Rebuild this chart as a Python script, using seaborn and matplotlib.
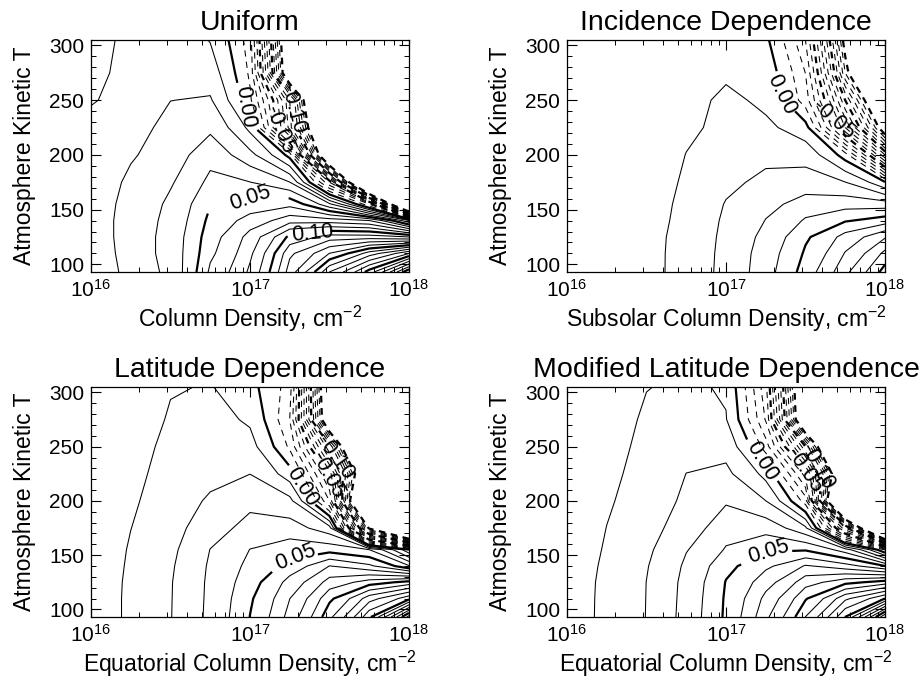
import numpy as np
import matplotlib
matplotlib.use("Agg")
import matplotlib.pyplot as plt
from matplotlib.ticker import LogLocator, NullFormatter, MultipleLocator
import seaborn as sns

sns.set_style("ticks")
plt.rcParams["font.family"] = ["Liberation Sans", "DejaVu Sans"]
plt.rcParams["mathtext.fontset"] = "custom"
plt.rcParams["mathtext.rm"] = "Liberation Sans"
plt.rcParams["mathtext.it"] = "Liberation Sans:italic"
plt.rcParams["mathtext.bf"] = "Liberation Sans:bold"
for key in ["text.color", "axes.labelcolor", "xtick.color", "ytick.color", "axes.edgecolor"]:
    plt.rcParams[key] = "black"

# ---------------- data ----------------
log_column_density = [16.0, 16.25, 16.5, 16.75, 17.0, 17.25, 17.5, 17.75, 18.0]
temperature = [93, 110, 125, 140, 155, 175, 200, 225, 250, 275, 305]

# one list per column density, values at the temperatures above (low T -> high T)
uniform = [
    [0.013, 0.014, 0.015, 0.015, 0.015, 0.015, 0.015, 0.014, 0.009, 0.006, 0.003],
    [0.024, 0.025, 0.025, 0.025, 0.024, 0.022, 0.019, 0.017, 0.016, 0.016, 0.016],
    [0.033, 0.034, 0.034, 0.033, 0.032, 0.029, 0.026, 0.023, 0.0199, 0.018, 0.016],
    [0.062, 0.058, 0.056, 0.053, 0.0497, 0.043, 0.036, 0.028, 0.021, 0.015, 0.0095],
    [0.082, 0.078, 0.074, 0.0645, 0.0537, 0.0402, 0.023, 0.007, -0.008, -0.012, -0.015],
    [0.125, 0.118, 0.103, 0.076, 0.057, 0.0302, -0.004, -0.085, -0.0902, -0.19, -0.20],
    [0.1702, 0.1402, 0.115, 0.075, 0.032, -0.0402, -0.22, -0.25, -0.3, -0.3, -0.3],
    [0.205, 0.165, 0.115, 0.0702, -0.0202, -0.3, -0.3, -0.3, -0.3, -0.3, -0.3],
    [0.2602, 0.19, 0.1102, 0.031, -0.3, -0.3, -0.3, -0.3, -0.3, -0.3, -0.3],
]

incidence = [
    [0.004, 0.004, 0.004, 0.004, 0.004, 0.004, 0.004, 0.004, 0.004, 0.004, 0.004],
    [0.006, 0.006, 0.006, 0.005, 0.005, 0.005, 0.0045, 0.0042, 0.004, 0.004, 0.004],
    [0.007, 0.007, 0.0068, 0.006, 0.0056, 0.0054, 0.0048, 0.0045, 0.0043, 0.0042, 0.004],
    [0.0146, 0.0145, 0.0143, 0.0138, 0.0131, 0.0116, 0.0102, 0.0083, 0.0075, 0.007, 0.0065],
    [0.0232, 0.0229, 0.0224, 0.0217, 0.0206, 0.0178, 0.015, 0.013, 0.012, 0.0085, 0.006],
    [0.0364, 0.0355, 0.0335, 0.0303, 0.0276, 0.023, 0.017, 0.012, 0.0077, 0.006, 0.002],
    [0.0551, 0.0515, 0.0485, 0.0413, 0.034, 0.025, 0.016, 0.004, -0.015, -0.0202, -0.0302],
    [0.0779, 0.0707, 0.064, 0.0491, 0.036, 0.0202, -0.005, -0.0702, -0.1002, -0.1402, -0.16],
    [0.1047, 0.0928, 0.079, 0.055, 0.035, 0.001, -0.0902, -0.17, -0.22, -0.3, -0.3],
]

latitude = [
    [0.005, 0.005, 0.005, 0.005, 0.005, 0.005, 0.0048, 0.0046, 0.0044, 0.0042, 0.004],
    [0.012, 0.012, 0.0118, 0.0113, 0.0108, 0.0099, 0.0088, 0.0078, 0.007, 0.0065, 0.006],
    [0.0197, 0.0196, 0.0195, 0.019, 0.0182, 0.017, 0.0155, 0.014, 0.0125, 0.0108, 0.0095],
    [0.033, 0.0326, 0.0323, 0.0316, 0.0302, 0.026, 0.0215, 0.017, 0.014, 0.013, 0.0105],
    [0.0502, 0.0487, 0.0461, 0.0431, 0.0402, 0.034, 0.027, 0.0199, 0.0135, 0.0085, 0.003],
    [0.0741, 0.0699, 0.064, 0.054, 0.046, 0.034, 0.023, 0.0045, -0.012, -0.0202, -0.015],
    [0.1078, 0.0977, 0.0843, 0.0702, 0.046, 0.024, -0.0302, -0.055, -0.1002, -0.19, -0.20],
    [0.148, 0.126, 0.095, 0.062, 0.0402, -0.155, -0.3, -0.22, -0.3, -0.3, -0.3],
    [0.215, 0.147, 0.104, 0.041, 0.002, -0.3, -0.3, -0.3, -0.3, -0.3, -0.3],
]

modified_latitude = [
    [0.006, 0.006, 0.006, 0.006, 0.006, 0.0058, 0.0056, 0.0054, 0.0052, 0.005, 0.0048],
    [0.0124, 0.0123, 0.0121, 0.0115, 0.0108, 0.0101, 0.0092, 0.0084, 0.0078, 0.0072, 0.0068],
    [0.0203, 0.0202, 0.0201, 0.0195, 0.0185, 0.0165, 0.0142, 0.0131, 0.012, 0.0111, 0.0098],
    [0.0345, 0.034, 0.0335, 0.032, 0.0295, 0.026, 0.0225, 0.0201, 0.0165, 0.014, 0.0115],
    [0.052, 0.0515, 0.0505, 0.0475, 0.041, 0.0355, 0.029, 0.022, 0.017, 0.0105, 0.0088],
    [0.078, 0.073, 0.066, 0.058, 0.049, 0.036, 0.0201, 0.0065, -0.015, -0.031, -0.037],
    [0.1102, 0.099, 0.086, 0.071, 0.049, 0.022, -0.015, -0.045, -0.1002, -0.201, -0.208],
    [0.1502, 0.128, 0.097, 0.064, 0.035, -0.08, -0.3, -0.22, -0.3, -0.3, -0.3],
    [0.2202, 0.1502, 0.105, 0.0502, -0.011, -0.3, -0.3, -0.3, -0.3, -0.3, -0.3],
]

titles = ["Uniform", "Incidence Dependence",
          "Latitude Dependence", "Modified Latitude Dependence"]
xlabels = ["Column Density, cm$^{-2}$", "Subsolar Column Density, cm$^{-2}$",
           "Equatorial Column Density, cm$^{-2}$", "Equatorial Column Density, cm$^{-2}$"]
ylabel = "Atmosphere Kinetic T"
contour_levels = np.round(np.arange(-15, 31) * 0.01, 2)

# contour-label anchors: (level, log10 column density, temperature)
label_anchors = [
    [(0.00, 16.97, 244), (-0.05, 17.17, 222), (-0.10, 17.31, 242), (0.05, 17.00, 161), (0.10, 17.39, 130)],
    [(0.00, 17.39, 256), (-0.05, 17.70, 240)],
    [(0.00, 17.31, 212), (-0.05, 17.45, 218), (-0.10, 17.55, 243), (0.05, 17.29, 143)],
    [(0.00, 17.23, 237), (-0.05, 17.46, 221), (-0.10, 17.60, 239), (0.05, 17.27, 149)],
]

panels = [uniform, incidence, latitude, modified_latitude]

# ---------------- layout ----------------
W, H = 924, 680
fig = plt.figure(figsize=(W / 100, H / 100), dpi=100)
boxes = [(91, 40, 409, 272), (567, 40, 885, 272),
         (91, 387, 409, 617), (567, 387, 885, 617)]

N = 10.0 ** np.array(log_column_density)
T = np.array(temperature, dtype=float)


def style_of(lv):
    thick = abs(int(round(lv * 100))) % 5 == 0
    lw = 1.6 if thick else 0.75
    if lv < 0:
        ls = (0, (3, 2.5)) if thick else (0, (6, 5))
    else:
        ls = "solid"
    return lw, ls


for k, (vals, box) in enumerate(zip(panels, boxes)):
    x0, y0, x1, y1 = box
    ax = fig.add_axes([x0 / W, 1 - y1 / H, (x1 - x0) / W, (y1 - y0) / H])
    Z = np.array(vals).T  # rows = temperature, cols = column density

    labelled = [a[0] for a in label_anchors[k]]
    plain = [lv for lv in contour_levels
             if not any(np.isclose(lv, l) for l in labelled)]
    sty = [style_of(lv) for lv in plain]
    ax.contour(N, T, Z, levels=plain, colors="k",
               linewidths=[s[0] for s in sty], linestyles=[s[1] for s in sty])

    for lv, lx, ty in label_anchors[k]:
        lw, ls = style_of(lv)
        cs = ax.contour(N, T, Z, levels=[lv], colors="k",
                        linewidths=[lw], linestyles=[ls])
        ax.clabel(cs, manual=[(10 ** lx, ty)], fmt="%.2f",
                  fontsize=15.5, inline=True, inline_spacing=3, colors="k")

    ax.set_xscale("log")
    ax.set_xlim(1e16, 1e18)
    ax.set_ylim(93, 305)
    ax.set_xticks([1e16, 1e17, 1e18])
    ax.set_xticklabels([r"$10^{16}$", r"$10^{17}$", r"$10^{18}$"])
    ax.xaxis.set_minor_locator(LogLocator(base=10, subs=range(2, 10)))
    ax.xaxis.set_minor_formatter(NullFormatter())
    ax.set_yticks([100, 150, 200, 250, 300])
    ax.yaxis.set_minor_locator(MultipleLocator(10))
    ax.tick_params(which="both", direction="in", top=True, right=True,
                   colors="k", labelsize=15)
    ax.tick_params(which="major", length=7, width=0.8, pad=5)
    ax.tick_params(which="minor", length=3.5, width=0.7)
    for s in ax.spines.values():
        s.set_linewidth(0.9)
        s.set_color("k")
    ax.set_title(titles[k], fontsize=20.5, pad=7, color="k")
    ax.set_xlabel(xlabels[k], fontsize=16.5, labelpad=2, color="k")
    ax.set_ylabel(ylabel, fontsize=16.5, labelpad=9, color="k")

fig.savefig("out.png", dpi=100, facecolor="white")
